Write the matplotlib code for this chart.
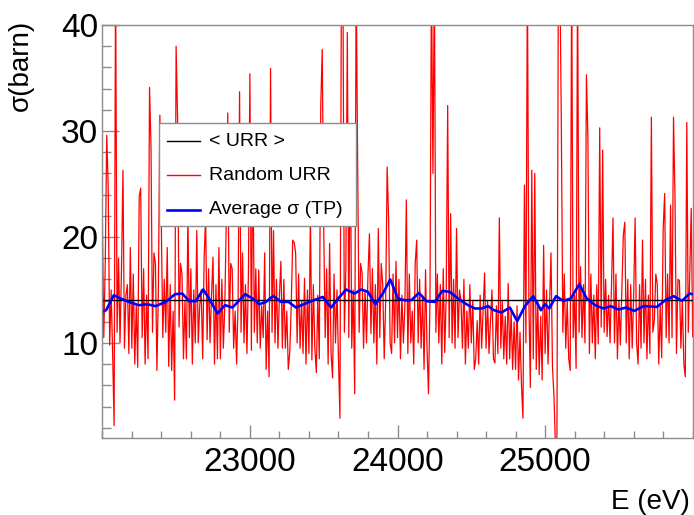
import numpy as np
import matplotlib
matplotlib.use("Agg")
import matplotlib.pyplot as plt
from matplotlib.ticker import MultipleLocator, FixedLocator
from matplotlib.lines import Line2D
from matplotlib.patches import Rectangle

plt.rcParams['font.family'] = ['Liberation Sans', 'DejaVu Sans']

# < URR > mean cross section (barn)
urr_mean = 14.03

# Average sigma (TP)
avg_energy = [22000, 22026, 22078, 22124, 22180, 22248, 22304, 22361, 22429, 22493,
              22542, 22588, 22633, 22683, 22724, 22780, 22832, 22882, 22968, 23018,
              23063, 23109, 23158, 23211, 23262, 23312, 23403, 23493, 23550, 23602,
              23652, 23709, 23754, 23799, 23851, 23901, 23951, 24003, 24048, 24094,
              24145, 24196, 24252, 24304, 24354, 24410, 24467, 24524, 24569, 24614,
              24653, 24705, 24761, 24811, 24863, 24920, 24972, 24999, 25028, 25074,
              25123, 25174, 25232, 25282, 25339, 25395, 25445, 25497, 25549, 25604,
              25667, 25758, 25814, 25871, 25928, 25979, 26000]
avg_sigma = [12.93, 13.09, 14.50, 14.19, 13.87, 13.56, 13.65, 13.47, 13.87, 14.60,
             14.66, 13.94, 13.94, 15.04, 14.19, 12.78, 13.56, 13.34, 14.60, 14.19,
             13.65, 13.87, 14.44, 13.87, 13.87, 13.34, 13.87, 14.34, 13.34, 14.25,
             15.04, 14.66, 15.04, 14.82, 13.65, 14.66, 15.99, 14.19, 14.03, 14.03,
             14.72, 13.94, 13.87, 14.91, 14.82, 14.19, 13.65, 13.25, 13.25, 13.47,
             13.09, 12.87, 13.34, 12.05, 13.47, 14.41, 13.09, 13.65, 13.25, 14.41,
             13.97, 14.19, 15.54, 14.19, 13.56, 13.25, 13.47, 13.15, 13.34, 13.02,
             13.47, 13.40, 14.03, 14.41, 13.97, 14.66, 14.60]

# Random URR sample, one value every 10 eV from 22000 to 26000 eV
random_energy = np.arange(22000, 26001, 10)
random_sigma = [
    22.2, 10.5, 17.5, 29.6, 24.7, 9.8, 15.0, 9.0, 2.2, 45, 11.0, 18.0, 10.0, 16.9, 26.3, 9.5, 14.5, 15.5, 9.0, 19.0,
    9.5, 16.5, 8.0, 13.5, 7.7, 23.8, 24.6, 10.5, 17.0, 8.0, 14.5, 8.5, 34.1, 28.5, 11.0, 18.5, 17.5, 7.4, 15.0, 31.5,
    21.1, 10.5, 16.0, 11.0, 19.0, 7.8, 15.5, 7.4, 13.0, 4.6, 38.0, 31.2, 11.5, 17.5, 16.5, 8.5, 14.0, 8.5, 22.2, 10.5,
    17.0, 8.0, 15.0, 10.0, 20.6, 10.0, 13.5, 15.0, 8.5, 18.0, 21.9, 10.3, 17.0, 10.0, 14.5, 18.1, 8.0, 15.5, 8.5, 19.0,
    8.5, 16.0, 9.5, 13.5, 21.6, 31.7, 11.0, 17.5, 17.0, 9.5, 13.0, 8.0, 14.0, 33.7, 11.0, 18.5, 10.0, 15.5, 9.0, 16.5,
    35.4, 9.3, 28.8, 11.0, 17.0, 10.0, 16.9, 9.5, 13.5, 10.5, 18.5, 7.5, 13.0, 6.8, 35.9, 11.0, 20.6, 10.0, 16.0, 9.5,
    14.5, 17.7, 9.5, 16.0, 9.5, 13.0, 7.5, 9.1, 13.5, 19.7, 19.5, 18.5, 10.0, 16.5, 9.5, 14.0, 9.0, 16.1, 8.0, 15.0,
    9.0, 22.2, 8.4, 15.5, 9.5, 7.2, 14.5, 8.5, 32.3, 37.7, 20.9, 10.5, 17.0, 8.0, 19.4, 9.0, 6.7, 16.5, 10.0, 15.0,
    8.5, 2.9, 45, 45, 11.0, 16.9, 39.3, 10.5, 30.6, 9.5, 15.0, 5.2, 45, 27.0, 11.0, 17.5, 16.6, 9.5, 15.0, 10.0,
    16.5, 20.3, 10.9, 17.0, 10.0, 15.5, 8.0, 20.8, 10.5, 17.5, 15.5, 8.5, 14.0, 26.6, 21.6, 10.0, 9.0, 16.5, 10.0, 17.7,
    10.5, 16.0, 8.5, 14.5, 10.0, 13.5, 23.5, 9.0, 16.5, 10.0, 13.0, 8.0, 17.5, 19.7, 10.0, 16.0, 9.5, 14.5, 7.5, 16.9,
    9.5, 5.2, 14.0, 45, 26.0, 45, 11.0, 16.5, 10.0, 15.5, 8.0, 17.0, 9.1, 14.5, 32.4, 10.5, 22.2, 10.0, 16.0, 9.5,
    20.8, 10.5, 15.0, 14.0, 9.5, 16.0, 8.0, 13.0, 9.5, 15.5, 10.0, 14.0, 7.5, 8.5, 12.1, 8.0, 14.5, 9.5, 13.0, 16.6,
    9.5, 14.0, 9.0, 12.0, 15.0, 8.5, 8.1, 13.5, 9.0, 21.8, 9.5, 14.0, 8.5, 12.5, 8.0, 15.6, 8.5, 13.0, 7.5, 12.0,
    7.5, 13.5, 6.5, 11.0, 6.0, 2.9, 24.9, 10.0, 45, 14.0, 5.8, 26.3, 8.5, 26.0, 7.5, 14.0, 7.0, 12.5, 6.5, 19.2,
    9.0, 15.0, 8.0, 13.5, 18.5, 7.7, 5.0, 0.3, 0.3, 45, 45, 30.6, 11.0, 16.5, 9.5, 14.0, 8.5, 7.4, 45, 10.5,
    14.5, 7.6, 45, 11.0, 17.2, 10.5, 15.5, 10.0, 35.3, 29.4, 9.0, 16.5, 10.0, 14.5, 8.5, 15.5, 9.9, 30.3, 11.5, 28.2,
    11.0, 16.0, 10.6, 14.5, 10.0, 15.5, 21.8, 10.0, 16.5, 8.5, 14.0, 9.8, 15.0, 20.2, 21.4, 10.0, 16.0, 8.5, 15.5, 9.5,
    14.5, 21.8, 10.0, 8.0, 15.5, 9.5, 19.7, 10.0, 16.0, 8.5, 14.5, 9.0, 31.3, 11.0, 12.1, 16.5, 15.5, 8.0, 13.5, 8.6,
    20.8, 24.1, 10.5, 16.5, 10.0, 23.0, 10.5, 31.3, 23.8, 9.0, 16.0, 15.9, 9.5, 14.0, 8.0, 6.8, 30.8, 11.0, 16.5, 22.7, 10.6,
]

W, H = 694, 515
fig = plt.figure(figsize=(W / 100, H / 100), dpi=100)
ax = fig.add_axes([102.3 / W, 1 - 438.3 / H, (692.7 - 102.3) / W, (438.3 - 25) / H])

ax.plot(random_energy, random_sigma, color='#ff0000', lw=0.9)
ax.axhline(urr_mean, color='black', lw=1.0)
ax.plot(avg_energy, avg_sigma, color='#0000ff', lw=1.9)

ax.set_xlim(22000, 26000)
ax.set_ylim(1.0, 40.0)

ax.xaxis.set_major_locator(FixedLocator([23000, 24000, 25000]))
ax.xaxis.set_minor_locator(MultipleLocator(200))
ax.yaxis.set_major_locator(FixedLocator([10, 20, 30, 40]))
ax.yaxis.set_minor_locator(MultipleLocator(2))

frame_col = '#8c8c8c'
for s in ax.spines.values():
    s.set_color(frame_col)
    s.set_linewidth(1.0)
ax.tick_params(axis='both', which='both', direction='in', color=frame_col, width=1.0,
               top=False, right=False)
ax.tick_params(axis='x', which='major', length=9.4, pad=6, labelsize=24)
ax.tick_params(axis='x', which='minor', length=5.0)
ax.tick_params(axis='y', which='major', length=12.5, pad=3, labelsize=24)
ax.tick_params(axis='y', which='minor', length=6.5)

fig.text(690 / W, 1 - 509 / H, 'E (eV)', ha='right', va='baseline', fontsize=20)
fig.text(21 / W, 1 - 20 / H, 'σ(barn)', ha='center', va='top', rotation=90, fontsize=20)

# legend box, drawn like the ROOT TLegend
lx0, ly0, lx1, ly1 = 159.3, 122.7, 356.0, 225.7
fig.patches.append(Rectangle((lx0 / W, 1 - ly1 / H), (lx1 - lx0) / W, (ly1 - ly0) / H,
                             transform=fig.transFigure, facecolor='white',
                             edgecolor=frame_col, lw=1.0, zorder=5))
entries = [('< URR >', 'black', 1.0, 141),
           ('Random URR', '#ff0000', 1.0, 175),
           ('Average σ (TP)', '#0000ff', 1.9, 209.5)]
for label, col, lw, yy in entries:
    fig.lines.append(Line2D([166.7 / W, 200 / W], [1 - yy / H, 1 - yy / H],
                            transform=fig.transFigure, color=col, lw=lw, zorder=6))
    fig.text(209 / W, 1 - yy / H, label, ha='left', va='center', fontsize=14, zorder=6)

fig.savefig('out.png', dpi=100)
